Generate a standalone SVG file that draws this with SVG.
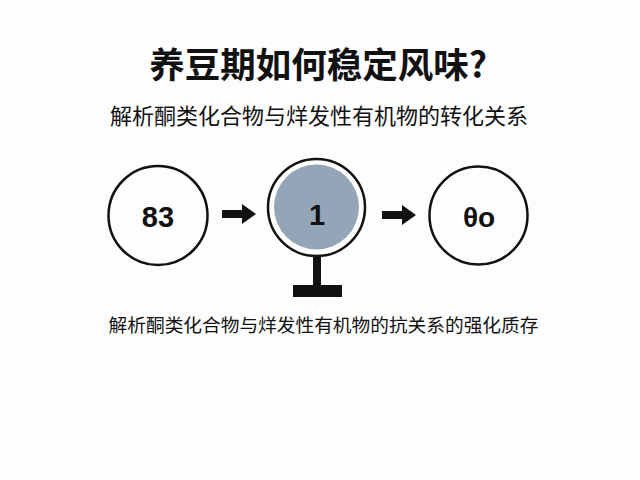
<svg xmlns="http://www.w3.org/2000/svg" width="640" height="480" viewBox="0 0 640 480">
<style>
.cjk{font-family:"Noto Sans CJK SC","Liberation Sans",sans-serif;fill:#111;text-anchor:middle}
.num{font-family:"Liberation Sans","DejaVu Sans",sans-serif;font-weight:bold;fill:#111;text-anchor:middle}
.ring{fill:none;stroke:#111;stroke-width:2.5}
</style>
<defs>
<path id="arrow" d="M0,-4 L20,-4 L20,-10 L34,0 L20,10 L20,4 L0,4 Z" fill="#111"/>
</defs>
<rect width="640" height="480" fill="#fdfdfd"/>
<text class="cjk" x="318" y="78" font-size="35.5" font-weight="bold">养豆期如何稳定风味?</text>
<text class="cjk" x="319" y="124" font-size="22">解析酮类化合物与烊发性有机物的转化关系</text>
<g id="node-83">
<circle class="ring" cx="158" cy="215.5" r="49.5" fill="#fff"/>
<text class="num" x="158" y="227" font-size="29">83</text>
</g>
<g id="node-1">
<circle class="ring" cx="316.5" cy="207.5" r="48.5" fill="#fff"/>
<circle cx="316.5" cy="207" r="42.5" fill="#93a5b6"/>
<text class="num" x="317" y="225" font-size="29">1</text>
<rect x="313" y="256" width="8" height="31" fill="#111"/>
<rect x="293" y="285" width="49" height="12" fill="#111"/>
</g>
<g id="node-0o">
<circle class="ring" cx="478.5" cy="215.5" r="49" fill="#fff"/>
<text class="num" x="479" y="227" font-size="28">θo</text>
</g>
<g id="connectors">
<use href="#arrow" x="222" y="214"/>
<use href="#arrow" x="382" y="215"/>
</g>
<text class="cjk" x="323.5" y="332" font-size="18.7">解析酮类化合物与烊发性有机物的抗关系的强化质存</text>
</svg>
